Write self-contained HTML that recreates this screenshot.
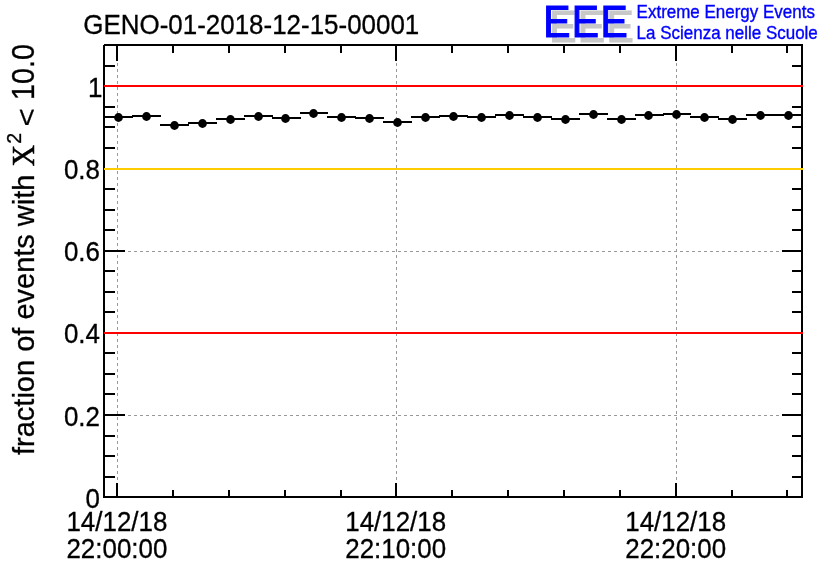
<!DOCTYPE html>
<html lang="en"><head><meta charset="utf-8"><title>GENO-01-2018-12-15-00001</title>
<style>
html,body{margin:0;padding:0;background:#fff;}
body{width:836px;height:572px;overflow:hidden;}
svg{display:block;font-family:"Liberation Sans",sans-serif;}
.ln{shape-rendering:crispEdges;}
</style></head><body>
<svg width="836" height="572" viewBox="0 0 836 572">
<rect width="836" height="572" fill="#fff"/>
<g class="ln" stroke="#999999" stroke-width="1" stroke-dasharray="3 3" fill="none">
<line x1="117.5" y1="45" x2="117.5" y2="497"/>
<line x1="396.5" y1="45" x2="396.5" y2="497"/>
<line x1="676.5" y1="45" x2="676.5" y2="497"/>
<line x1="104" y1="415.5" x2="802" y2="415.5"/>
<line x1="104" y1="251.5" x2="802" y2="251.5"/>
</g>
<g class="ln" stroke="#000" stroke-width="2" fill="none">
<rect x="104" y="45" width="698" height="452"/>
<line x1="117" y1="497" x2="117" y2="483"/>
<line x1="117" y1="45" x2="117" y2="61"/>
<line x1="173" y1="497" x2="173" y2="490"/>
<line x1="173" y1="45" x2="173" y2="53"/>
<line x1="229" y1="497" x2="229" y2="490"/>
<line x1="229" y1="45" x2="229" y2="53"/>
<line x1="285" y1="497" x2="285" y2="490"/>
<line x1="285" y1="45" x2="285" y2="53"/>
<line x1="341" y1="497" x2="341" y2="490"/>
<line x1="341" y1="45" x2="341" y2="53"/>
<line x1="396" y1="497" x2="396" y2="483"/>
<line x1="396" y1="45" x2="396" y2="61"/>
<line x1="452" y1="497" x2="452" y2="490"/>
<line x1="452" y1="45" x2="452" y2="53"/>
<line x1="508" y1="497" x2="508" y2="490"/>
<line x1="508" y1="45" x2="508" y2="53"/>
<line x1="564" y1="497" x2="564" y2="490"/>
<line x1="564" y1="45" x2="564" y2="53"/>
<line x1="620" y1="497" x2="620" y2="490"/>
<line x1="620" y1="45" x2="620" y2="53"/>
<line x1="676" y1="497" x2="676" y2="483"/>
<line x1="676" y1="45" x2="676" y2="61"/>
<line x1="732" y1="497" x2="732" y2="490"/>
<line x1="732" y1="45" x2="732" y2="53"/>
<line x1="787" y1="497" x2="787" y2="490"/>
<line x1="787" y1="45" x2="787" y2="53"/>
<line x1="104" y1="497" x2="125" y2="497"/>
<line x1="802" y1="497" x2="782" y2="497"/>
<line x1="104" y1="477" x2="115" y2="477"/>
<line x1="802" y1="477" x2="792" y2="477"/>
<line x1="104" y1="456" x2="115" y2="456"/>
<line x1="802" y1="456" x2="792" y2="456"/>
<line x1="104" y1="436" x2="115" y2="436"/>
<line x1="802" y1="436" x2="792" y2="436"/>
<line x1="104" y1="415" x2="125" y2="415"/>
<line x1="802" y1="415" x2="782" y2="415"/>
<line x1="104" y1="394" x2="115" y2="394"/>
<line x1="802" y1="394" x2="792" y2="394"/>
<line x1="104" y1="374" x2="115" y2="374"/>
<line x1="802" y1="374" x2="792" y2="374"/>
<line x1="104" y1="353" x2="115" y2="353"/>
<line x1="802" y1="353" x2="792" y2="353"/>
<line x1="104" y1="333" x2="125" y2="333"/>
<line x1="802" y1="333" x2="782" y2="333"/>
<line x1="104" y1="312" x2="115" y2="312"/>
<line x1="802" y1="312" x2="792" y2="312"/>
<line x1="104" y1="292" x2="115" y2="292"/>
<line x1="802" y1="292" x2="792" y2="292"/>
<line x1="104" y1="271" x2="115" y2="271"/>
<line x1="802" y1="271" x2="792" y2="271"/>
<line x1="104" y1="251" x2="125" y2="251"/>
<line x1="802" y1="251" x2="782" y2="251"/>
<line x1="104" y1="230" x2="115" y2="230"/>
<line x1="802" y1="230" x2="792" y2="230"/>
<line x1="104" y1="210" x2="115" y2="210"/>
<line x1="802" y1="210" x2="792" y2="210"/>
<line x1="104" y1="189" x2="115" y2="189"/>
<line x1="802" y1="189" x2="792" y2="189"/>
<line x1="104" y1="169" x2="125" y2="169"/>
<line x1="802" y1="169" x2="782" y2="169"/>
<line x1="104" y1="148" x2="115" y2="148"/>
<line x1="802" y1="148" x2="792" y2="148"/>
<line x1="104" y1="127" x2="115" y2="127"/>
<line x1="802" y1="127" x2="792" y2="127"/>
<line x1="104" y1="107" x2="115" y2="107"/>
<line x1="802" y1="107" x2="792" y2="107"/>
<line x1="104" y1="86" x2="125" y2="86"/>
<line x1="802" y1="86" x2="782" y2="86"/>
<line x1="104" y1="66" x2="115" y2="66"/>
<line x1="802" y1="66" x2="792" y2="66"/>
</g>
<rect class="ln" x="103" y="44" width="1" height="1" fill="#fff"/>
<g class="ln" stroke-width="2" fill="none">
<line x1="104" y1="86" x2="803" y2="86" stroke="#f00"/>
<line x1="104" y1="169" x2="803" y2="169" stroke="#fc0"/>
<line x1="104" y1="333" x2="803" y2="333" stroke="#f00"/>
</g>
<g class="ln" stroke="#000" stroke-width="2">
<line x1="104" y1="117" x2="133" y2="117"/>
<line x1="132" y1="116" x2="161" y2="116"/>
<line x1="160" y1="125" x2="189" y2="125"/>
<line x1="188" y1="123" x2="217" y2="123"/>
<line x1="216" y1="119" x2="245" y2="119"/>
<line x1="244" y1="116" x2="273" y2="116"/>
<line x1="272" y1="118" x2="301" y2="118"/>
<line x1="300" y1="113" x2="328" y2="113"/>
<line x1="327" y1="117" x2="356" y2="117"/>
<line x1="355" y1="118" x2="384" y2="118"/>
<line x1="383" y1="122" x2="412" y2="122"/>
<line x1="411" y1="117" x2="440" y2="117"/>
<line x1="439" y1="116" x2="468" y2="116"/>
<line x1="467" y1="117" x2="496" y2="117"/>
<line x1="495" y1="115" x2="524" y2="115"/>
<line x1="523" y1="117" x2="552" y2="117"/>
<line x1="551" y1="119" x2="580" y2="119"/>
<line x1="579" y1="114" x2="608" y2="114"/>
<line x1="607" y1="119" x2="636" y2="119"/>
<line x1="635" y1="115" x2="664" y2="115"/>
<line x1="663" y1="114" x2="691" y2="114"/>
<line x1="690" y1="117" x2="719" y2="117"/>
<line x1="718" y1="119" x2="747" y2="119"/>
<line x1="746" y1="115" x2="775" y2="115"/>
<line x1="774" y1="115" x2="802" y2="115"/>
</g>
<g fill="#000">
<circle cx="118.5" cy="117.5" r="4.4"/>
<circle cx="146.5" cy="116.5" r="4.4"/>
<circle cx="174.5" cy="125.5" r="4.4"/>
<circle cx="202.5" cy="123.5" r="4.4"/>
<circle cx="230.5" cy="119.5" r="4.4"/>
<circle cx="258.5" cy="116.5" r="4.4"/>
<circle cx="285.5" cy="118.5" r="4.4"/>
<circle cx="313.5" cy="113.5" r="4.4"/>
<circle cx="341.5" cy="117.5" r="4.4"/>
<circle cx="369.5" cy="118.5" r="4.4"/>
<circle cx="397.5" cy="122.5" r="4.4"/>
<circle cx="425.5" cy="117.5" r="4.4"/>
<circle cx="453.5" cy="116.5" r="4.4"/>
<circle cx="481.5" cy="117.5" r="4.4"/>
<circle cx="509.5" cy="115.5" r="4.4"/>
<circle cx="537.5" cy="117.5" r="4.4"/>
<circle cx="565.5" cy="119.5" r="4.4"/>
<circle cx="593.5" cy="114.5" r="4.4"/>
<circle cx="621.5" cy="119.5" r="4.4"/>
<circle cx="648.5" cy="115.5" r="4.4"/>
<circle cx="676.5" cy="114.5" r="4.4"/>
<circle cx="704.5" cy="117.5" r="4.4"/>
<circle cx="732.5" cy="119.5" r="4.4"/>
<circle cx="760.5" cy="115.5" r="4.4"/>
<circle cx="788.5" cy="115.5" r="4.4"/>
</g>
<text transform="translate(83.3,34.2) scale(1.008,1.07)" font-size="25.74" text-anchor="start" fill="#000" stroke="#000" stroke-width="0.3" >GENO-01-2018-12-15-00001</text>
<text transform="translate(100.0,507.7) scale(1.008,1.045)" font-size="25.74" text-anchor="end" fill="#000" stroke="#000" stroke-width="0.3" >0</text>
<text transform="translate(100.0,425.6) scale(1.008,1.045)" font-size="25.74" text-anchor="end" fill="#000" stroke="#000" stroke-width="0.3" >0.2</text>
<text transform="translate(100.0,343.4) scale(1.008,1.045)" font-size="25.74" text-anchor="end" fill="#000" stroke="#000" stroke-width="0.3" >0.4</text>
<text transform="translate(100.0,261.3) scale(1.008,1.045)" font-size="25.74" text-anchor="end" fill="#000" stroke="#000" stroke-width="0.3" >0.6</text>
<text transform="translate(100.0,179.1) scale(1.008,1.045)" font-size="25.74" text-anchor="end" fill="#000" stroke="#000" stroke-width="0.3" >0.8</text>
<text transform="translate(102.3,96.9) scale(1.008,1.045)" font-size="25.74" text-anchor="end" fill="#000" stroke="#000" stroke-width="0.3" >1</text>
<text transform="translate(116.9,530.5) scale(1.008,1.045)" font-size="25.74" text-anchor="middle" fill="#000" stroke="#000" stroke-width="0.3" >14/12/18</text>
<text transform="translate(395.7,530.5) scale(1.008,1.045)" font-size="25.74" text-anchor="middle" fill="#000" stroke="#000" stroke-width="0.3" >14/12/18</text>
<text transform="translate(675.7,530.5) scale(1.008,1.045)" font-size="25.74" text-anchor="middle" fill="#000" stroke="#000" stroke-width="0.3" >14/12/18</text>
<text transform="translate(116.9,557.9) scale(1.008,1.045)" font-size="25.74" text-anchor="middle" fill="#000" stroke="#000" stroke-width="0.3" >22:00:00</text>
<text transform="translate(395.7,557.9) scale(1.008,1.045)" font-size="25.74" text-anchor="middle" fill="#000" stroke="#000" stroke-width="0.3" >22:10:00</text>
<text transform="translate(675.7,557.9) scale(1.008,1.045)" font-size="25.74" text-anchor="middle" fill="#000" stroke="#000" stroke-width="0.3" >22:20:00</text>
<text transform="translate(33.5,455.0) rotate(-90) scale(1.014,1.0)" font-size="28.6" stroke="#000" stroke-width="0.3">fraction of events with</text>
<text transform="translate(33.5,166.6) rotate(-90) scale(1.0,1.04)" font-size="30" font-family="'Liberation Serif',serif" stroke="#000" stroke-width="0.5">X</text>
<text transform="translate(20.9,143.8) rotate(-90) scale(1.0,1.07)" font-size="19.5" stroke="#000" stroke-width="0.3">2</text>
<text transform="translate(35.8,126.4) rotate(-90) scale(1.09,0.94)" font-size="28.6" stroke="#000" stroke-width="0.3">&lt;</text>
<text transform="translate(33.8,100.0) rotate(-90) scale(1.006,1.08)" font-size="28.6" stroke="#000" stroke-width="0.3">10.0</text>
<text transform="translate(549.2,42.0) scale(0.95,1.012)" font-size="43" letter-spacing="1.5" fill="#c8c8c8" stroke="#c8c8c8" stroke-width="1.1" stroke-linejoin="miter">EEE</text>
<text transform="translate(543.2,36.9) scale(0.95,1.012)" font-size="43" letter-spacing="1.5" fill="#0000ff" stroke="#0000ff" stroke-width="1.1" stroke-linejoin="miter">EEE</text>
<text transform="translate(636.6,17.6) scale(1.005,1.05)" font-size="16.9" text-anchor="start" fill="#0000ff" stroke="#0000ff" stroke-width="0.35" >Extreme Energy Events</text>
<text transform="translate(636.6,38.9) scale(1.005,1.05)" font-size="16.9" text-anchor="start" fill="#0000ff" stroke="#0000ff" stroke-width="0.35" >La Scienza nelle Scuole</text>
</svg></body></html>
